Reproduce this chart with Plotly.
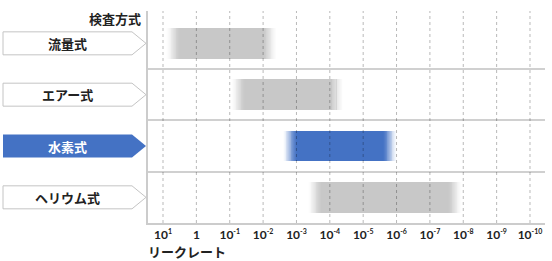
import plotly.graph_objects as go

# ---- data ----
methods = ["流量式", "エアー式", "水素式", "ヘリウム式"]          # top to bottom
range_from_exp = [0.9, -1.05, -2.6, -3.35]    # leak-rate exponent at left edge
range_to_exp = [-2.4, -4.4, -6.0, -7.95]      # leak-rate exponent at right edge
highlighted = [False, False, True, False]
tick_exps = [1, 0, -1, -2, -3, -4, -5, -6, -7, -8, -9, -10]
tick_labels = ["10<sup><span style='font-size:7px'>1</span></sup>", "1"] + \
    [f"10<sup><span style='font-size:7px'>{e}</span></sup>" for e in tick_exps[2:]]
y_title = "検査方式"
x_title = "リークレート"

# ---- style ----
GRAY = (200, 200, 200)
BLUE = (68, 114, 196)
FADE = 0.4
NSLICE = 16
BAR_W = 0.6
JP = "Noto Sans CJK JP"
W, H = 552, 261
ML, MR, MT, MB = 148, 7, 11, 38
PW = W - ML - MR

n = len(methods)
rows = [n - 0.5 - i for i in range(n)]

fig = go.Figure()

for i, m in enumerate(methods):
    col = BLUE if highlighted[i] else GRAY
    a, b = range_from_exp[i], range_to_exp[i]
    bases, lens, cols = [], [], []
    bases.append(b + FADE)
    lens.append((a - FADE) - (b + FADE))
    cols.append(f"rgb{col}")
    step = FADE / NSLICE
    for k in range(NSLICE):
        t = (k + 0.5) / NSLICE
        alpha = 0.5 * t + 0.5 * t * t * (3 - 2 * t)
        c = f"rgba({col[0]},{col[1]},{col[2]},{alpha:.3f})"
        bases.append(a - (k + 1) * step)
        lens.append(step * 1.02)
        cols.append(c)
        bases.append(b + k * step - step * 0.02)
        lens.append(step * 1.02)
        cols.append(c)
    fig.add_trace(go.Bar(
        orientation="h",
        y=[rows[i]] * len(bases),
        x=lens,
        base=bases,
        width=BAR_W,
        marker=dict(color=cols, line=dict(width=0)),
        hoverinfo="skip",
        showlegend=False,
    ))

shapes = []
for e in tick_exps:
    shapes.append(dict(type="line", xref="x", yref="paper", x0=e, x1=e, y0=0, y1=1,
                       line=dict(color="rgba(0,0,0,0.28)", width=1, dash="3px,3px"),
                       layer="above"))

def px2paper(px):
    return (px - ML) / PW

half = 0.224
annotations = []
for i, m in enumerate(methods):
    yc = rows[i]
    x0, x1, x2 = px2paper(3), px2paper(132), px2paper(146)
    path = (f"M {x0},{yc-half} L {x1},{yc-half} L {x2},{yc} "
            f"L {x1},{yc+half} L {x0},{yc+half} Z")
    if highlighted[i]:
        shapes.append(dict(type="path", xref="paper", yref="y", path=path,
                           fillcolor=f"rgb{BLUE}", line=dict(width=0), layer="above"))
        tcol = "white"
    else:
        shapes.append(dict(type="path", xref="paper", yref="y", path=path,
                           fillcolor="white", line=dict(color="#c4c4c4", width=1),
                           layer="above"))
        tcol = "#222222"
    annotations.append(dict(x=px2paper(67), y=yc, xref="paper", yref="y", text=m,
                            showarrow=False, xanchor="center", yanchor="middle",
                            font=dict(family=JP, size=13, color=tcol, weight=700)))

annotations.append(dict(x=px2paper(143), y=(H - MB - 18) / (H - MT - MB), xref="paper",
                        yref="paper", text=y_title, showarrow=False, xanchor="right",
                        yanchor="middle", font=dict(family=JP, size=13, color="#222", weight=700)))
annotations.append(dict(x=px2paper(146), y=(H - MB - 251) / (H - MT - MB), xref="paper",
                        yref="paper", text=x_title, showarrow=False, xanchor="left",
                        yanchor="middle", font=dict(family=JP, size=13, color="#222", weight=700)))

fig.update_layout(
    width=W, height=H,
    margin=dict(l=ML, r=MR, t=MT, b=MB),
    paper_bgcolor="white", plot_bgcolor="white",
    barmode="overlay",
    bargap=0,
    shapes=shapes,
    annotations=annotations,
    xaxis=dict(range=[1.45, -10.45], tickvals=tick_exps, ticktext=tick_labels,
               showgrid=False, zeroline=False, showline=True, linecolor="#cccccc",
               linewidth=2, ticks="", tickfont=dict(family="Lato", size=12, color="#222", weight=700),
               fixedrange=True),
    yaxis=dict(range=[0, (H - MT - MB) / 51.33], tickvals=[1, 2, 3], showticklabels=False,
               showgrid=True, gridcolor="#d0d0d0", gridwidth=1.5, zeroline=False,
               showline=True, linecolor="#cccccc", linewidth=2, ticks="", fixedrange=True),
)

fig.write_html("out.html")
